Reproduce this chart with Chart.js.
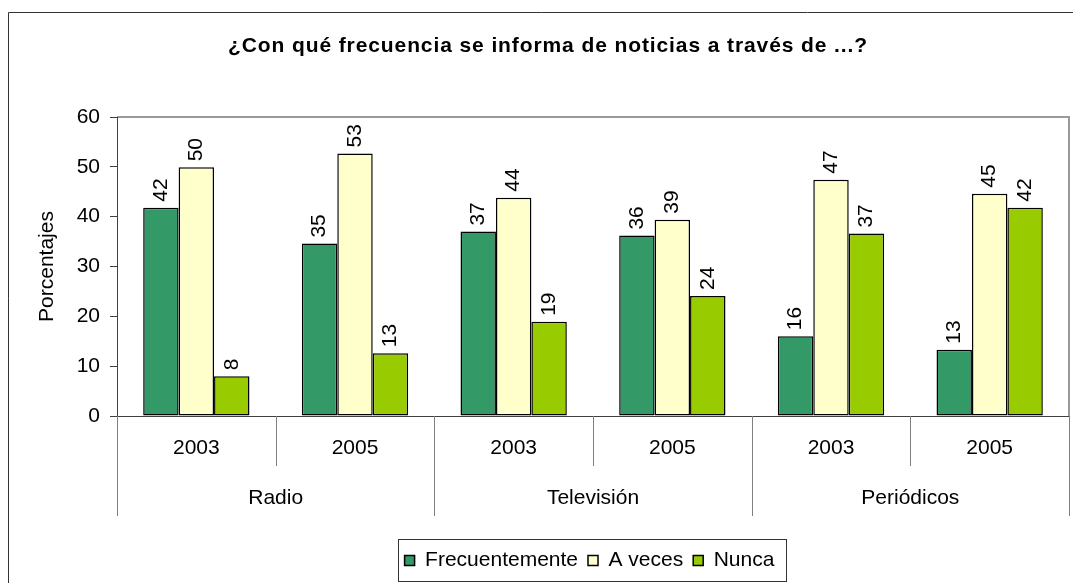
<!DOCTYPE html>
<html>
<head>
<meta charset="utf-8">
<script src="https://cdn.jsdelivr.net/npm/chart.js@4"></script>
<style>
  body { margin: 0; background: #fff; }
  #wrap { width: 1073px; height: 583px; }
</style>
</head>
<body>
<div id="wrap"><canvas id="chart" width="1073" height="583"></canvas></div>
<script>
const years = ['2003', '2005', '2003', '2005', '2003', '2005'];
const medios = ['Radio', 'Televisión', 'Periódicos'];
const frecuentemente = [41.8, 34.6, 37.0, 36.2, 16.0, 13.3];
const aVeces = [49.9, 52.7, 43.8, 39.4, 47.4, 44.6];
const nunca = [8.0, 12.6, 18.9, 24.1, 36.6, 41.8];
const yTicks = [0, 10, 20, 30, 40, 50, 60];
const titulo = '¿Con qué frecuencia se informa de noticias a través de ...?';

const FONT = "'Liberation Sans', Arial, sans-serif";

// frame round the whole chart, title, and top/right edge of the plot area
const framePlugin = {
    id: 'frame',
    afterLayout(chart) {
        // the legend sits a little right of centre in the original
        const lg = chart.legend;
        lg.left += 40;
        lg.right += 40;
        if (lg.adjustHitBoxes) lg.adjustHitBoxes();
    },
    beforeDraw(chart) {
        const ctx = chart.ctx;
        const a = chart.chartArea;
        ctx.save();
        ctx.strokeStyle = '#333';
        ctx.lineWidth = 1;
        ctx.beginPath();
        ctx.moveTo(8.5, 590);
        ctx.lineTo(8.5, 12.5);
        ctx.lineTo(1080, 12.5);
        ctx.stroke();

        ctx.strokeStyle = '#999';
        ctx.lineWidth = 2;
        ctx.beginPath();
        ctx.moveTo(a.left, a.top);
        ctx.lineTo(a.right, a.top);
        ctx.lineTo(a.right, a.bottom);
        ctx.stroke();

        // the title is spaced out a bit, like the original
        ctx.fillStyle = '#000';
        ctx.font = 'bold 21px ' + FONT;
        ctx.letterSpacing = '0.9px';
        ctx.textAlign = 'center';
        ctx.textBaseline = 'middle';
        ctx.fillText(titulo, 548, 46);
        ctx.letterSpacing = '0px';
        ctx.restore();
    }
};

// separators under the axis and the group names
const groupAxisPlugin = {
    id: 'groupAxis',
    afterDraw(chart) {
        const ctx = chart.ctx;
        const x = chart.scales.x;
        const a = chart.chartArea;
        const step = (a.right - a.left) / years.length;
        ctx.save();
        ctx.strokeStyle = '#808080';
        ctx.lineWidth = 1;
        for (let k = 0; k <= years.length; k++) {
            const px = Math.round(k === years.length ? a.right : x.getPixelForValue(k) - step / 2) + 0.5;
            const end = k % 2 === 0 ? 516 : 466;
            ctx.beginPath();
            ctx.moveTo(px, a.bottom);
            ctx.lineTo(px, end);
            ctx.stroke();
        }
        ctx.fillStyle = '#000';
        ctx.font = '21px ' + FONT;
        ctx.textAlign = 'center';
        ctx.textBaseline = 'middle';
        medios.forEach((m, i) => {
            const cx = (x.getPixelForValue(i * 2) + x.getPixelForValue(i * 2 + 1)) / 2;
            ctx.fillText(m, cx, 498);
        });

        // box round the legend
        const boxes = chart.legend.legendHitBoxes;
        if (boxes && boxes.length) {
            const left = Math.min(...boxes.map(b => b.left)) - 7;
            const right = Math.max(...boxes.map(b => b.left + b.width)) + 11;
            ctx.strokeStyle = '#333';
            ctx.strokeRect(Math.round(left) + 0.5, Math.round(chart.legend.top) - 0.5,
                Math.round(right - left), Math.round(chart.legend.bottom - chart.legend.top) + 1);
        }
        ctx.restore();
    }
};

// value labels, turned upright above each bar
const valueLabelPlugin = {
    id: 'valueLabels',
    afterDatasetsDraw(chart) {
        const ctx = chart.ctx;
        ctx.save();
        ctx.fillStyle = '#000';
        ctx.font = '21px ' + FONT;
        ctx.textAlign = 'left';
        ctx.textBaseline = 'middle';
        chart.data.datasets.forEach((ds, i) => {
            chart.getDatasetMeta(i).data.forEach((bar, j) => {
                ctx.save();
                ctx.translate(bar.x, bar.y - 6);
                ctx.rotate(-Math.PI / 2);
                ctx.fillText(String(Math.round(ds.data[j])), 0, 0);
                ctx.restore();
            });
        });
        ctx.restore();
    }
};

const config = {
    type: 'bar',
    data: {
        labels: years,
        datasets: [
            { label: 'Frecuentemente', data: frecuentemente, backgroundColor: '#339966' },
            { label: 'A veces', data: aVeces, backgroundColor: '#FFFFCC' },
            { label: 'Nunca', data: nunca, backgroundColor: '#99CC00' },
        ]
    },
    options: {
        responsive: false,
        animation: false,
        datasets: {
            bar: {
                borderColor: '#000',
                borderWidth: 1.5,
                borderSkipped: false,
                categoryPercentage: 0.67,
                barPercentage: 1.0,
            }
        },
        layout: { padding: { left: 30, right: 4, top: 117, bottom: 2 } },
        plugins: {
            title: { display: false },
            legend: {
                position: 'bottom',
                labels: {
                    color: '#000',
                    font: { family: FONT, size: 21 },
                    boxWidth: 10,
                    boxHeight: 10,
                    padding: 10,
                }
            },
            tooltip: { enabled: false },
        },
        scales: {
            x: {
                grid: { display: false, drawTicks: false },
                border: { display: true, color: '#404040', width: 1 },
                ticks: { color: '#000', font: { family: FONT, size: 21 }, padding: 20, maxRotation: 0 },
                afterFit(scale) { scale.height = 124; }
            },
            y: {
                min: 0,
                max: 60,
                afterBuildTicks(scale) { scale.ticks = yTicks.map(v => ({ value: v })); },
                grid: { drawOnChartArea: false, drawTicks: true, tickLength: 7, color: '#404040' },
                border: { display: true, color: '#404040', width: 1 },
                ticks: { color: '#000', font: { family: FONT, size: 21 }, padding: 10 },
                title: {
                    display: true,
                    text: 'Porcentajes',
                    color: '#000',
                    font: { family: FONT, size: 21 },
                    padding: { top: 5, bottom: 0 },
                },
                afterFit(scale) { scale.width = 87; }
            }
        }
    },
    plugins: [framePlugin, groupAxisPlugin, valueLabelPlugin]
};

const chart = new Chart(document.getElementById('chart'), config);
</script>
</body>
</html>
